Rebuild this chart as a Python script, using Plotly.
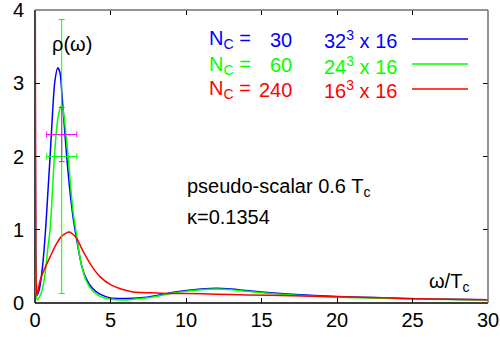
import plotly.graph_objects as go

# ---- data ----
w_blue = [0.0, 0.08, 0.15, 0.3, 0.5, 0.7, 0.85, 1.0, 1.15, 1.3, 1.5, 1.65, 1.8, 1.95, 2.1, 2.3, 2.5,
          2.65, 2.9, 3.1, 3.4, 3.8, 4.3, 5.0, 6.0, 7.0, 8.0, 9.0, 10.0, 11.0, 12.0, 13.0, 14.0, 15.0,
          17.0, 20.0, 23.0, 26.0, 30.0]
rho_blue = [6.0, 0.3, 0.11, 0.2, 0.5, 1.0, 1.5, 2.0, 2.55, 3.0, 3.21, 3.15, 2.8, 2.4, 2.0, 1.55, 1.2,
            1.0, 0.7, 0.5, 0.33, 0.2, 0.12, 0.07, 0.06, 0.07, 0.1, 0.14, 0.17, 0.19, 0.2, 0.19, 0.17, 0.15,
            0.12, 0.09, 0.07, 0.055, 0.045]

w_green = [0.0, 0.08, 0.15, 0.3, 0.5, 0.7, 0.85, 1.0, 1.15, 1.3, 1.5, 1.7, 1.8, 1.95, 2.1, 2.2, 2.4,
           2.55, 2.7, 2.9, 3.1, 3.4, 3.8, 4.3, 5.0, 6.0, 7.0, 8.0, 9.0, 10.0, 11.0, 12.0, 13.0, 14.0,
           15.0, 17.0, 20.0, 23.0, 26.0, 30.0]
rho_green = [6.0, 0.15, 0.04, 0.08, 0.2, 0.45, 0.75, 1.0, 1.5, 2.05, 2.5, 2.68, 2.69, 2.5, 2.2, 2.0, 1.5,
             1.2, 1.0, 0.72, 0.5, 0.3, 0.17, 0.09, 0.05, 0.04, 0.06, 0.09, 0.13, 0.16, 0.18, 0.19, 0.18,
             0.16, 0.14, 0.11, 0.08, 0.065, 0.05, 0.04]

w_red = [0.0, 0.05, 0.12, 0.33, 0.6, 1.0, 1.4, 1.8, 2.27, 2.7, 3.2, 3.7, 4.3, 5.0, 5.7, 6.5, 7.5, 8.7,
         10.0, 12.0, 14.0, 17.0, 20.0, 23.0, 26.0, 30.0]
rho_red = [6.0, 0.6, 0.1, 0.3, 0.45, 0.63, 0.8, 0.92, 0.97, 0.9, 0.7, 0.52, 0.36, 0.25, 0.19, 0.15, 0.14,
           0.13, 0.13, 0.12, 0.11, 0.1, 0.085, 0.07, 0.055, 0.045]

# error-bar points
eb_green_x, eb_green_y, eb_green_dx, eb_green_dy = [1.77], [2.0], [1.0], [1.87]
eb_mag_x, eb_mag_y, eb_mag_dx, eb_mag_dy = [1.77], [2.3], [1.0], [0.37]

legend_n = ["30", "60", "240"]
legend_lat = ["32<sup>3</sup> x 16", "24<sup>3</sup> x 16", "16<sup>3</sup> x 16"]
colors = ["#0000ff", "#00ff00", "#ff0000"]
x_ticks = [0, 5, 10, 15, 20, 25, 30]
y_ticks = [0, 1, 2, 3, 4]

FONT = "Liberation Sans, Arial, sans-serif"
W, H = 500, 341
L, R, T, B = 35, 12, 10, 38
PW, PH = W - L - R, H - T - B


def px(x):
    return (x - L) / PW


def py(y):
    return (H - B - y) / PH


fig = go.Figure()

for w, r, c in [(w_blue, rho_blue, colors[0]), (w_green, rho_green, colors[1]), (w_red, rho_red, colors[2])]:
    fig.add_trace(go.Scatter(x=w, y=r, mode="lines", line=dict(color=c, width=1.5, shape="spline", smoothing=0.6),
                             showlegend=False, hoverinfo="skip", cliponaxis=True))

fig.add_trace(go.Scatter(x=eb_green_x, y=eb_green_y, mode="markers", marker=dict(size=1, color="#00ff00"),
                         error_x=dict(type="data", array=eb_green_dx, color="#00ff00", thickness=1, width=3),
                         error_y=dict(type="data", array=eb_green_dy, color="#00ff00", thickness=1, width=3),
                         showlegend=False))
fig.add_trace(go.Scatter(x=eb_mag_x, y=eb_mag_y, mode="markers", marker=dict(size=1, color="#ff00ff"),
                         error_x=dict(type="data", array=eb_mag_dx, color="#ff00ff", thickness=1, width=3),
                         error_y=dict(type="data", array=eb_mag_dy, color="#ff00ff", thickness=1, width=3),
                         showlegend=False))

axis_common = dict(ticks="inside", ticklen=5, tickcolor="black", tickwidth=1, showgrid=False, zeroline=False,
                   showline=False, mirror="ticks", ticklabeloverflow="allow", automargin=False,
                   tickfont=dict(family=FONT, size=20, color="black"))
fig.update_layout(
    width=W, height=H, margin=dict(l=L, r=R, t=T, b=B, autoexpand=False),
    paper_bgcolor="white", plot_bgcolor="white",
    xaxis=dict(range=[0, 30], tickvals=x_ticks, ticklabelstandoff=3, **axis_common),
    yaxis=dict(range=[0, 4], tickvals=y_ticks, ticklabelstandoff=10, **axis_common),
    font=dict(family=FONT, size=20, color="black"),
)

# frame: left/bottom black (below curves), top/right gray
fig.add_shape(type="line", xref="paper", yref="paper", x0=0, x1=0, y0=0, y1=1,
              line=dict(color="black", width=1.5), layer="below")
fig.add_shape(type="line", xref="paper", yref="paper", x0=0, x1=1, y0=0, y1=0,
              line=dict(color="black", width=1.5), layer="below")
fig.add_shape(type="line", xref="paper", yref="paper", x0=0, x1=1, y0=1, y1=1,
              line=dict(color="#707070", width=1.5))
fig.add_shape(type="line", xref="paper", yref="paper", x0=1, x1=1, y0=0, y1=1,
              line=dict(color="#707070", width=1.5))

ann = []
# key
ys = [40, 65, 90]
for i in range(3):
    ann.append(dict(x=px(207), y=py(ys[i]), xref="paper", yref="paper", xanchor="left", yanchor="middle",
                    text="N<sub>C</sub> =", showarrow=False, font=dict(family=FONT, size=20, color=colors[i])))
    ann.append(dict(x=px(294), y=py(ys[i]), xref="paper", yref="paper", xanchor="right", yanchor="middle",
                    text=legend_n[i], showarrow=False, font=dict(family=FONT, size=20, color=colors[i])))
    ann.append(dict(x=px(399), y=py(ys[i]), xref="paper", yref="paper", xanchor="right", yanchor="middle",
                    text=legend_lat[i], showarrow=False, font=dict(family=FONT, size=20, color=colors[i])))
    fig.add_shape(type="line", xref="paper", yref="paper", x0=px(412), x1=px(468), y0=py(ys[i] - 1),
                  y1=py(ys[i] - 1), line=dict(color=colors[i], width=1.5))

ann.append(dict(x=px(50), y=py(44), xref="paper", yref="paper", xanchor="left", yanchor="middle",
                text="ρ(ω)", showarrow=False, font=dict(family=FONT, size=20)))
ann.append(dict(x=px(185), y=py(188), xref="paper", yref="paper", xanchor="left", yanchor="middle",
                text="pseudo-scalar 0.6 T<sub>c</sub>", showarrow=False, font=dict(family=FONT, size=20)))
ann.append(dict(x=px(185), y=py(217), xref="paper", yref="paper", xanchor="left", yanchor="middle",
                text="κ=0.1354", showarrow=False, font=dict(family=FONT, size=20)))
ann.append(dict(x=px(471), y=py(282), xref="paper", yref="paper", xanchor="right", yanchor="middle",
                text="ω/T<sub>c</sub>", showarrow=False, font=dict(family=FONT, size=20)))
fig.update_layout(annotations=ann)

fig.write_html("out.html")
